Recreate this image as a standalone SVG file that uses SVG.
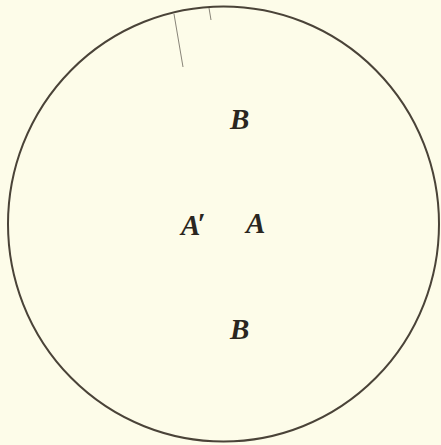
<svg xmlns="http://www.w3.org/2000/svg" width="441" height="445" viewBox="0 0 441 445">
<style>
.lbl{font-family:"Liberation Serif","DejaVu Serif",serif;font-style:italic;font-weight:bold;font-size:29px;fill:#2a2620}
.hair{stroke:#6a645a;stroke-width:0.8;fill:none}
</style>
<rect width="441" height="445" fill="#fdfce9"/>
<g id="circle">
<ellipse cx="223.5" cy="224" rx="215.5" ry="217.5" fill="none" stroke="#4a4338" stroke-width="2"/>
</g>
<g id="marks">
<line class="hair" x1="174" y1="14" x2="183" y2="67"/>
<line class="hair" x1="209" y1="8" x2="211" y2="20"/>
</g>
<g id="B-top"><text class="lbl" x="230" y="129">B</text></g>
<g id="A-prime"><text class="lbl" x="181" y="235">A<tspan dx="-3" dy="-2">′</tspan></text></g>
<g id="A"><text class="lbl" x="246" y="233">A</text></g>
<g id="B-bottom"><text class="lbl" x="230" y="339">B</text></g>
</svg>
